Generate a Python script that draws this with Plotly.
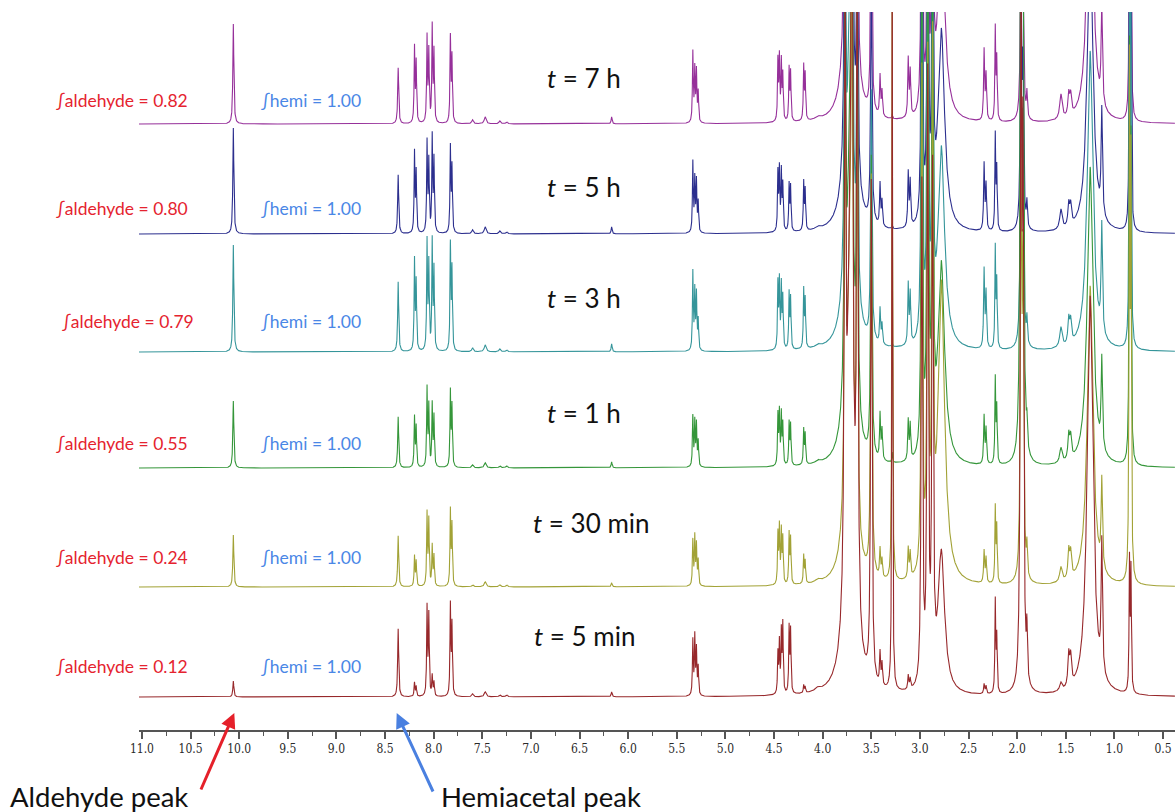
import numpy as np
import plotly.graph_objects as go

# ---------------- data ----------------
series_names = ["t = 7 h", "t = 5 h", "t = 3 h", "t = 1 h", "t = 30 min", "t = 5 min"]
time_labels = ["7 h", "5 h", "3 h", "1 h", "30 min", "5 min"]
aldehyde_integrals = ["0.82", "0.80", "0.79", "0.55", "0.24", "0.12"]
hemi_integrals = ["1.00", "1.00", "1.00", "1.00", "1.00", "1.00"]

tick_values = [11.0, 10.5, 10.0, 9.5, 9.0, 8.5, 8.0, 7.5, 7.0, 6.5, 6.0, 5.5,
               5.0, 4.5, 4.0, 3.5, 3.0, 2.5, 2.0, 1.5, 1.0, 0.5]
tick_labels = ["11.0", "10.5", "10.0", "9.5", "9.0", "8.5", "8.0", "7.5", "7.0", "6.5", "6.0", "5.5",
               "5.0", "4.5", "4.0", "3.5", "3.0", "2.5", "2.0", "1.5", "1.0", "0.5"]

# peak list (chemical shift, ppm) and half widths (ppm)
peak_ppm = [10.06, 8.365, 8.197, 8.180, 8.068, 8.050, 8.015, 7.997, 7.828, 7.812,
            7.60, 7.47, 7.32, 7.25, 6.17,
            5.335, 5.315, 5.298, 5.28,
            4.460, 4.445, 4.425, 4.41, 4.345, 4.330, 4.195, 4.180, 4.05,
            3.72, 3.77, 3.70, 3.645, 3.50, 3.41, 3.39, 3.285, 3.12, 3.10,
            2.98, 2.92, 2.87, 2.78, 2.34, 2.32, 2.225, 2.21,
            1.96, 1.94, 1.90, 1.55, 1.47, 1.45, 1.25, 1.13, 0.845, 0.83]
peak_hwhm = [0.006, 0.006, 0.005, 0.005, 0.005, 0.005, 0.005, 0.005, 0.005, 0.005,
             0.01, 0.012, 0.01, 0.01, 0.006,
             0.005, 0.005, 0.005, 0.005,
             0.005, 0.005, 0.005, 0.005, 0.005, 0.005, 0.005, 0.005, 0.03,
             0.04, 0.008, 0.008, 0.008, 0.008, 0.006, 0.006, 0.004, 0.006, 0.006,
             0.008, 0.008, 0.008, 0.04, 0.006, 0.006, 0.005, 0.005,
             0.008, 0.008, 0.006, 0.015, 0.01, 0.01, 0.035, 0.008, 0.005, 0.005]

# peak heights per spectrum (display units)
heights_7h = [100, 56, 75, 60, 85, 70, 95, 70, 85, 65,
              4, 7, 3, 2, 7,
              70, 52, 50, 30,
              60, 62, 58, 45, 52, 48, 54, 45, 3,
              300, 400, 400, 300, 250, 40, 25, 5, 58, 45,
              400, 300, 400, 200, 70, 45, 92, 60,
              200, 150, 25, 25, 22, 20, 300, 98, 300, 250]
heights_5h = [106, 59, 80, 60, 90, 70, 95, 72, 85, 65,
              4, 7, 3, 2, 7,
              70, 52, 50, 30,
              58, 60, 58, 45, 46, 44, 48, 40, 3,
              300, 400, 400, 300, 250, 42, 25, 5, 54, 45,
              400, 400, 400, 200, 66, 45, 95, 60,
              250, 150, 25, 20, 22, 20, 300, 105, 300, 250]
heights_3h = [107, 70, 90, 68, 108, 85, 108, 80, 105, 80,
              4, 7, 3, 2, 8,
              78, 58, 55, 30,
              65, 66, 62, 50, 55, 50, 58, 48, 3,
              300, 400, 400, 300, 250, 35, 20, 5, 60, 50,
              500, 500, 400, 200, 78, 55, 100, 65,
              300, 200, 25, 20, 25, 22, 300, 108, 400, 300]
heights_1h = [67, 51, 50, 40, 78, 60, 62, 50, 75, 60,
              3, 5, 2, 2, 6,
              50, 44, 42, 25,
              50, 52, 50, 40, 42, 40, 35, 30, 3,
              300, 400, 400, 400, 300, 45, 30, 10, 40, 35,
              500, 600, 500, 200, 48, 35, 85, 55,
              800, 500, 25, 15, 25, 22, 300, 90, 400, 300]
heights_30min = [52, 51, 30, 25, 72, 65, 40, 30, 75, 60,
                 2, 5, 2, 2, 4,
                 45, 48, 40, 25,
                 50, 56, 52, 45, 50, 45, 28, 22, 3,
                 300, 400, 400, 400, 400, 28, 18, 700, 30, 25,
                 500, 500, 500, 300, 32, 25, 75, 55,
                 400, 300, 30, 15, 28, 25, 300, 88, 500, 400]
heights_5min = [16, 68, 14, 10, 88, 80, 20, 14, 90, 70,
                3, 5, 2, 2, 5,
                55, 58, 45, 28,
                40, 50, 60, 68, 65, 62, 8, 6, 3,
                400, 600, 700, 700, 500, 32, 22, 800, 14, 10,
                500, 600, 500, 140, 10, 8, 92, 55,
                700, 500, 50, 8, 32, 28, 400, 130, 130, 120]

all_heights = [heights_7h, heights_5h, heights_3h, heights_1h, heights_30min, heights_5min]

# ---------------- styling / layout constants ----------------
colors = ["#96309a", "#2c2f8e", "#35959a", "#35963a", "#a2a236", "#97282b"]
offsets = [606, 496, 378, 262, 143, 33]          # vertical stacking of spectra
label_rows_px = [100, 208, 321, 443, 557, 666]
title_rows_px = [78, 187, 298, 413, 523, 636]
title_x_px = [584, 584, 584, 584, 591, 584]
ald_right_px = [190, 190, 196, 190, 190, 190]

L, R, T, B = 139, 0, 12, 82
W, H = 1175, 812
PW, PH = W - L - R, H - T - B


def px2paper(px, py):
    return (px - L) / PW, (H - B - py) / PH


x = np.arange(11.03, 0.377, -0.001)
pp = np.array(peak_ppm)[:, None]
ww = np.array(peak_hwhm)[:, None]

fig = go.Figure()
for i in range(6):
    hh = np.array(all_heights[i])[:, None]
    y = (hh * ww ** 2 / (ww ** 2 + (x[None, :] - pp) ** 2)).sum(axis=0) + offsets[i]
    fig.add_trace(go.Scatter(x=x, y=y, mode="lines", name=series_names[i],
                             line=dict(color=colors[i], width=1.1), hoverinfo="skip"))

ann = []
for i in range(6):
    xp, yp = px2paper(ald_right_px[i], label_rows_px[i])
    ann.append(dict(x=xp, y=yp, xref="paper", yref="paper", xanchor="right", yanchor="middle",
                    text="∫aldehyde = " + aldehyde_integrals[i], showarrow=False,
                    font=dict(family="Lato", size=17.5, color="#e5232f")))
    xp, yp = px2paper(363, label_rows_px[i])
    ann.append(dict(x=xp, y=yp, xref="paper", yref="paper", xanchor="right", yanchor="middle",
                    text="∫hemi = " + hemi_integrals[i], showarrow=False,
                    font=dict(family="Lato", size=17.5, color="#4a87e6")))
    xp, yp = px2paper(title_x_px[i], title_rows_px[i])
    ann.append(dict(x=xp, y=yp, xref="paper", yref="paper", xanchor="center", yanchor="middle",
                    text="<i>t</i> = " + time_labels[i], showarrow=False,
                    font=dict(family="Lato", size=26, color="#111111")))

# arrows
ann.append(dict(x=10.05, y=17, xref="x", yref="y", ax=-34, ay=78, axref="pixel", ayref="pixel",
                text="", showarrow=True, arrowhead=2, arrowsize=1, arrowwidth=3, arrowcolor="#e5202a"))
ann.append(dict(x=8.38, y=17, xref="x", yref="y", ax=37, ay=80, axref="pixel", ayref="pixel",
                text="", showarrow=True, arrowhead=2, arrowsize=1, arrowwidth=3, arrowcolor="#4a80e0"))
xp, yp = px2paper(8, 796)
ann.append(dict(x=xp, y=yp, xref="paper", yref="paper", xanchor="left", yanchor="middle",
                text="Aldehyde peak", showarrow=False, font=dict(family="Lato", size=27.5, color="#111111")))
xp, yp = px2paper(439, 796)
ann.append(dict(x=xp, y=yp, xref="paper", yref="paper", xanchor="left", yanchor="middle",
                text="Hemiacetal peak", showarrow=False, font=dict(family="Lato", size=27.5, color="#111111")))

fig.update_layout(
    width=W, height=H, autosize=False,
    margin=dict(l=L, r=R, t=T, b=B, pad=0),
    paper_bgcolor="white", plot_bgcolor="white",
    showlegend=False,
    annotations=ann,
    xaxis=dict(range=[11.03, 0.377], showgrid=False, zeroline=False,
               showline=True, linecolor="#555555", linewidth=1.5,
               ticks="outside", ticklen=7, tickwidth=1.5, tickcolor="#555555",
               tickvals=tick_values, ticktext=tick_labels,
               tickfont=dict(family="DejaVu Serif Condensed, DejaVu Serif", size=12, color="#2a2a2a"),
               minor=dict(dtick=0.25, tick0=0.5, ticks="outside", ticklen=4, tickcolor="#555555", tickwidth=1)),
    yaxis=dict(range=[0, PH], visible=False, fixedrange=True),
)

fig.write_html("out.html", config={"displayModeBar": False},
               post_script="document.body.style.margin='0';document.body.style.overflow='hidden';")
